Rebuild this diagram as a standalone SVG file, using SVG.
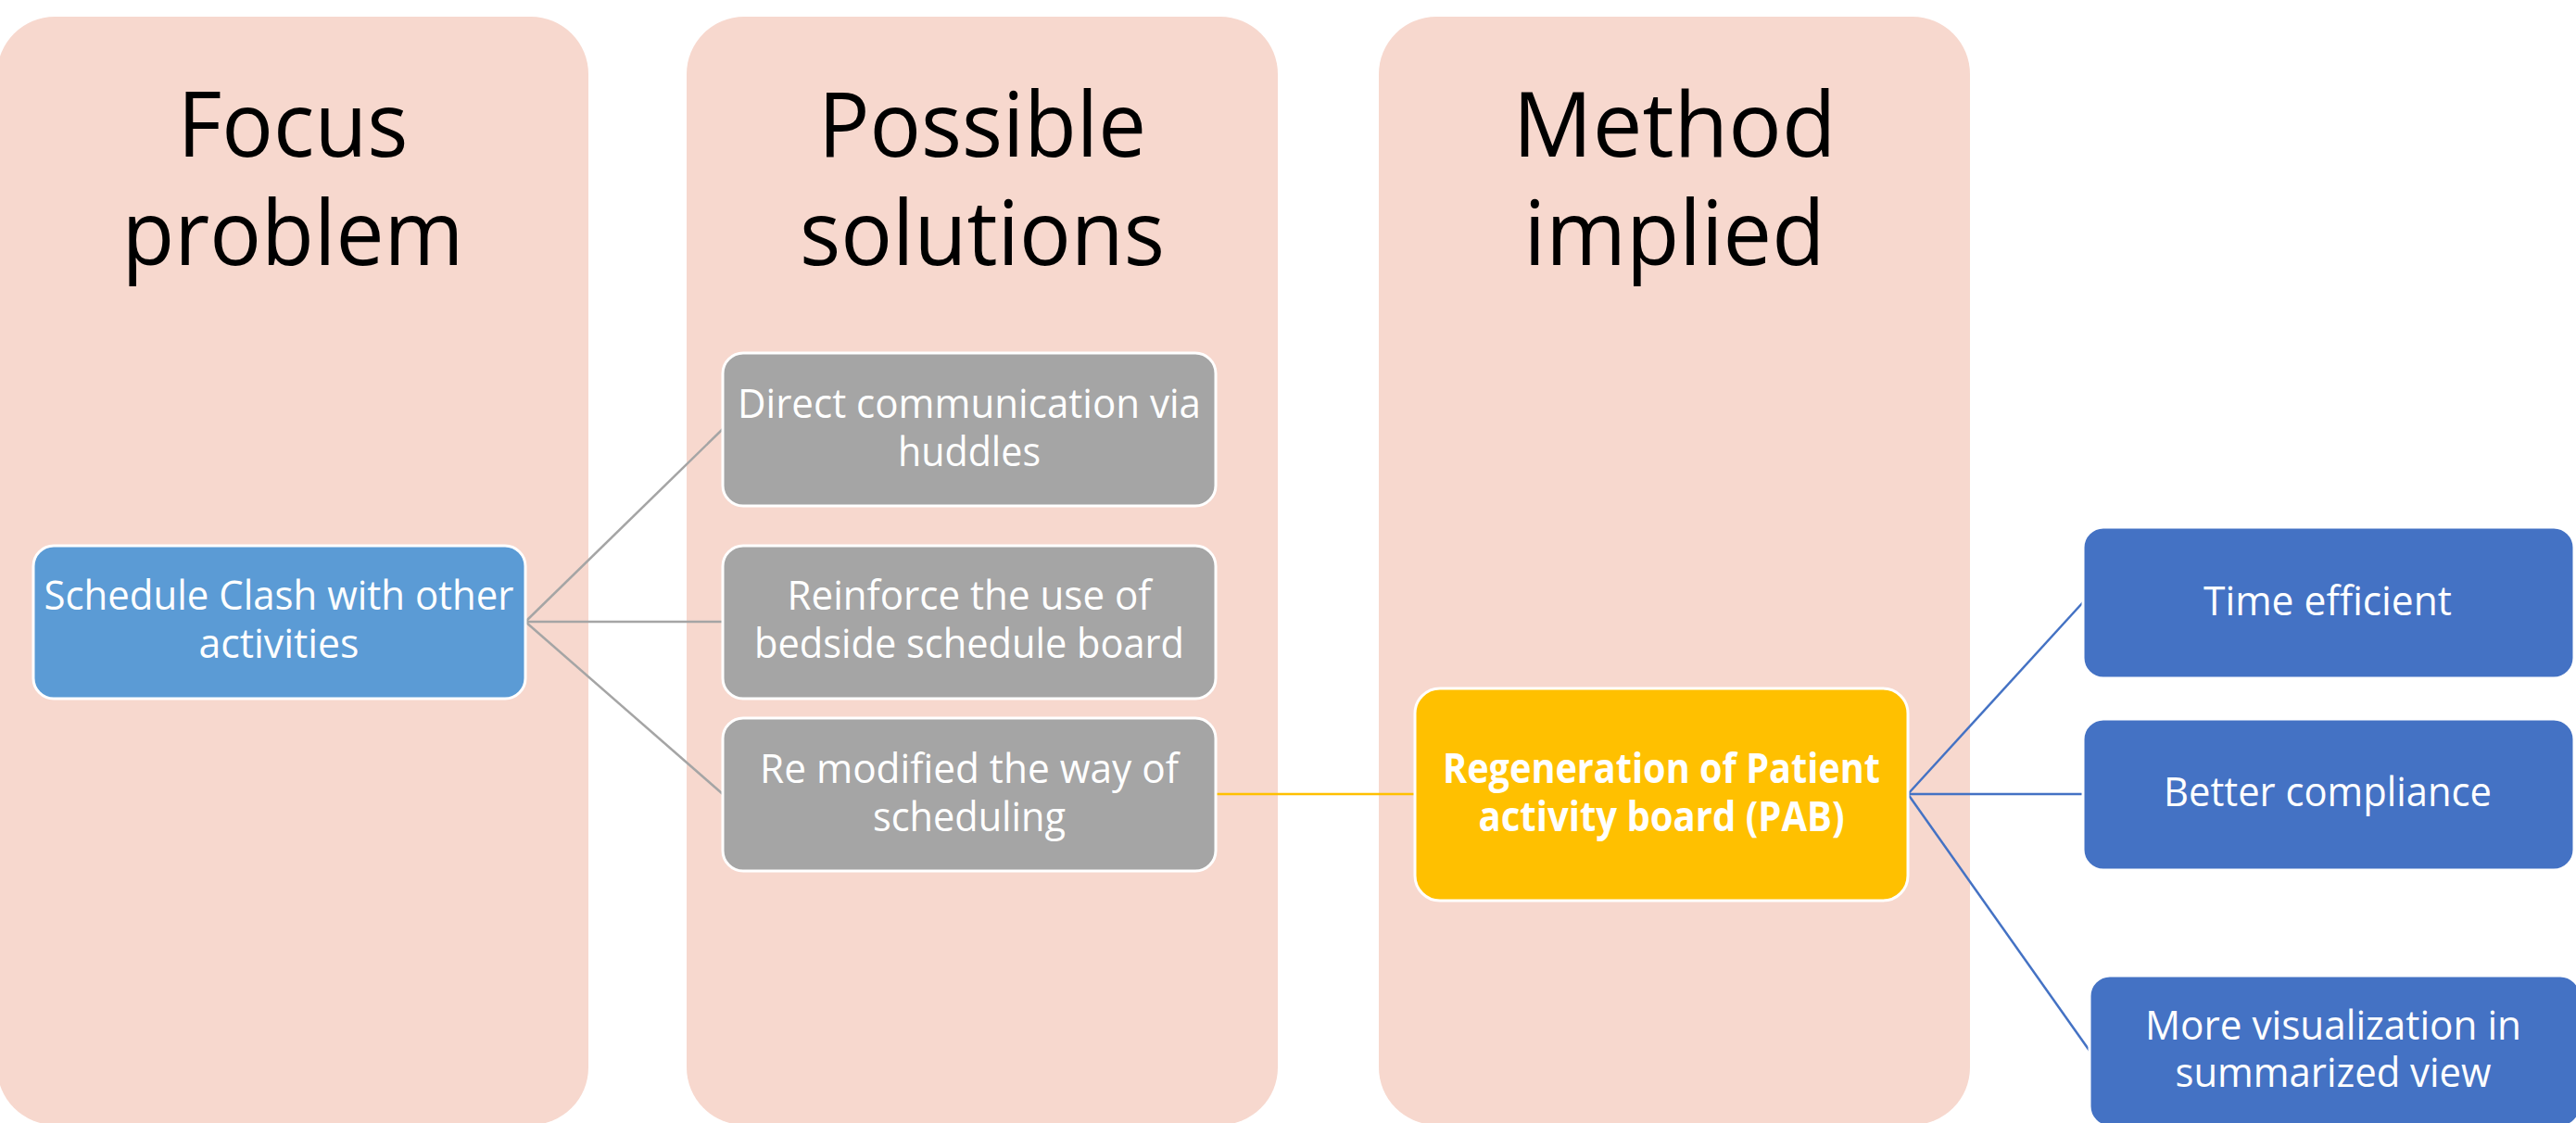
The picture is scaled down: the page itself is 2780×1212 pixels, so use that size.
<svg xmlns="http://www.w3.org/2000/svg" width="2780" height="1212" viewBox="0 0 2780 1212">
<style>
.col{fill:#F7D8CE}
.title{font-family:"Open Sans","Liberation Sans",sans-serif;font-size:97px;fill:#000;text-anchor:middle}
.t{font-family:"Open Sans","Liberation Sans",sans-serif;font-size:44px;fill:#fff;text-anchor:middle}
.tb{font-family:"Open Sans","Liberation Sans",sans-serif;font-size:44px;font-weight:bold;fill:#fff;text-anchor:middle}
.box{stroke:#fff;stroke-width:3}
.blue1{fill:#5B9BD5}
.gray{fill:#A5A5A5}
.yellow{fill:#FFC000}
.blue2{fill:#4472C4}
.lg{stroke:#A5A5A5;stroke-width:2.5;fill:none}
.ly{stroke:#FFC000;stroke-width:2.5;fill:none}
.lb{stroke:#4472C4;stroke-width:2.5;fill:none}
</style>
<rect width="2780" height="1212" fill="#fff"/>
<g id="col-focus">
<rect class="col" x="-3" y="18" width="638" height="1196" rx="62"/>
<text class="title" x="316" y="169" textLength="249" lengthAdjust="spacingAndGlyphs">Focus</text>
<text class="title" x="316" y="286" textLength="369" lengthAdjust="spacingAndGlyphs">problem</text>
</g>
<g id="col-solutions">
<rect class="col" x="741" y="18" width="638" height="1196" rx="62"/>
<text class="title" x="1060" y="169" textLength="354" lengthAdjust="spacingAndGlyphs">Possible</text>
<text class="title" x="1060" y="286" textLength="394" lengthAdjust="spacingAndGlyphs">solutions</text>
</g>
<g id="col-method">
<rect class="col" x="1488" y="18" width="638" height="1196" rx="62"/>
<text class="title" x="1807" y="169" textLength="349" lengthAdjust="spacingAndGlyphs">Method</text>
<text class="title" x="1807" y="286" textLength="325" lengthAdjust="spacingAndGlyphs">implied</text>
</g>
<g id="connectors">
<line class="lg" x1="567" y1="671" x2="780" y2="463"/>
<line class="lg" x1="567" y1="671" x2="780" y2="671"/>
<line class="lg" x1="567" y1="671" x2="780" y2="857"/>
<line class="ly" x1="1312" y1="857" x2="1527" y2="857"/>
<line class="lb" x1="2059" y1="857" x2="2248" y2="650"/>
<line class="lb" x1="2059" y1="857" x2="2248" y2="857"/>
<line class="lb" x1="2059" y1="857" x2="2255" y2="1134"/>
</g>
<g id="node-schedule-clash">
<rect class="box blue1" x="36" y="589" width="531" height="165" rx="22"/>
<text class="t" x="301" y="658" textLength="507" lengthAdjust="spacingAndGlyphs">Schedule Clash with other</text>
<text class="t" x="301" y="710" textLength="173" lengthAdjust="spacingAndGlyphs">activities</text>
</g>
<g id="node-huddles">
<rect class="box gray" x="780" y="381" width="532" height="165" rx="22"/>
<text class="t" x="1046" y="451" textLength="500" lengthAdjust="spacingAndGlyphs">Direct communication via</text>
<text class="t" x="1046" y="503" textLength="154" lengthAdjust="spacingAndGlyphs">huddles</text>
</g>
<g id="node-board">
<rect class="box gray" x="780" y="589" width="532" height="165" rx="22"/>
<text class="t" x="1046" y="658" textLength="393" lengthAdjust="spacingAndGlyphs">Reinforce the use of</text>
<text class="t" x="1046" y="710" textLength="464" lengthAdjust="spacingAndGlyphs">bedside schedule board</text>
</g>
<g id="node-scheduling">
<rect class="box gray" x="780" y="775" width="532" height="165" rx="22"/>
<text class="t" x="1046" y="845" textLength="452" lengthAdjust="spacingAndGlyphs">Re modified the way of</text>
<text class="t" x="1046" y="897" textLength="208" lengthAdjust="spacingAndGlyphs">scheduling</text>
</g>
<g id="node-pab">
<rect class="box yellow" x="1527" y="743" width="532" height="229" rx="27"/>
<text class="tb" x="1793" y="845" textLength="472" lengthAdjust="spacingAndGlyphs">Regeneration of Patient</text>
<text class="tb" x="1793" y="897" textLength="395" lengthAdjust="spacingAndGlyphs">activity board (PAB)</text>
</g>
<g id="node-time">
<rect class="box blue2" x="2248" y="569" width="530" height="163" rx="22"/>
<text class="t" x="2512" y="664" textLength="268" lengthAdjust="spacingAndGlyphs">Time efficient</text>
</g>
<g id="node-compliance">
<rect class="box blue2" x="2248" y="776" width="530" height="163" rx="22"/>
<text class="t" x="2512" y="870" textLength="354" lengthAdjust="spacingAndGlyphs">Better compliance</text>
</g>
<g id="node-visualization">
<rect class="box blue2" x="2255" y="1053" width="530" height="163" rx="22"/>
<text class="t" x="2518" y="1122" textLength="406" lengthAdjust="spacingAndGlyphs">More visualization in</text>
<text class="t" x="2518" y="1173" textLength="341" lengthAdjust="spacingAndGlyphs">summarized view</text>
</g>
</svg>
